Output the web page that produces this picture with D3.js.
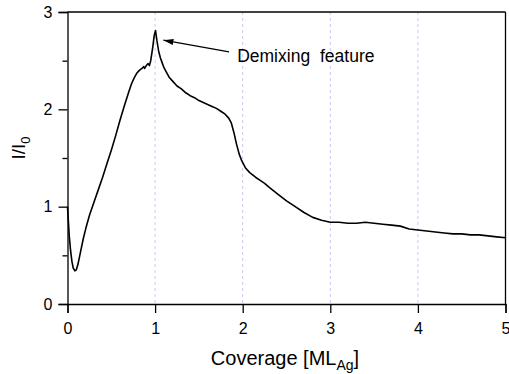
<!DOCTYPE html>
<html>
<head>
<meta charset="utf-8">
<script src="https://cdn.jsdelivr.net/npm/d3@7"></script>
<style>
  body { margin: 0; background: #fff; }
  svg text { font-family: "Liberation Sans", Arial, sans-serif; fill: #000; }
</style>
</head>
<body>
<div id="chart"></div>
<script>
// coverage [ML_Ag]
const coverage = [0.000, 0.010, 0.020, 0.035, 0.050, 0.065, 0.085, 0.100, 0.120, 0.150,
    0.180, 0.210, 0.250, 0.300, 0.350, 0.400, 0.450, 0.500, 0.550, 0.600,
    0.650, 0.700, 0.730, 0.760, 0.790, 0.820, 0.850, 0.870, 0.880, 0.900,
    0.920, 0.935, 0.950, 0.960, 0.975, 0.990, 1.005, 1.020, 1.040, 1.060,
    1.080, 1.100, 1.130, 1.160, 1.200, 1.250, 1.300, 1.350, 1.400, 1.450,
    1.500, 1.550, 1.600, 1.650, 1.700, 1.750, 1.800, 1.840, 1.870, 1.900,
    1.930, 1.960, 1.990, 2.030, 2.080, 2.150, 2.200, 2.250, 2.300, 2.400,
    2.500, 2.600, 2.700, 2.800, 2.900, 3.000, 3.100, 3.200, 3.300, 3.400,
    3.500, 3.600, 3.700, 3.800, 3.900, 4.000, 4.100, 4.200, 4.300, 4.400,
    4.500, 4.600, 4.700, 4.800, 4.900, 5.000];
// I/I0
const intensity = [1.00, 0.85, 0.70, 0.55, 0.44, 0.37, 0.34, 0.35, 0.41, 0.54,
    0.67, 0.78, 0.91, 1.04, 1.17, 1.30, 1.44, 1.58, 1.73, 1.89,
    2.04, 2.18, 2.26, 2.32, 2.37, 2.40, 2.42, 2.44, 2.42, 2.45,
    2.47, 2.45, 2.50, 2.56, 2.65, 2.76, 2.81, 2.71, 2.60, 2.53,
    2.48, 2.43, 2.38, 2.33, 2.29, 2.24, 2.21, 2.17, 2.14, 2.12,
    2.09, 2.07, 2.05, 2.03, 2.01, 1.98, 1.95, 1.91, 1.86, 1.76,
    1.64, 1.54, 1.47, 1.40, 1.35, 1.30, 1.27, 1.24, 1.20, 1.13,
    1.06, 1.00, 0.94, 0.89, 0.86, 0.84, 0.84, 0.83, 0.83, 0.84,
    0.83, 0.82, 0.81, 0.80, 0.77, 0.76, 0.75, 0.74, 0.73, 0.72,
    0.72, 0.71, 0.71, 0.70, 0.69, 0.68];

const xTicks = [0, 1, 2, 3, 4, 5];
const yTicks = [0, 1, 2, 3];
const yMinorTicks = [0.5, 1.5, 2.5];
const gridX = [1, 2, 3, 4];

// annotation: arrow from [x, y] to [x, y]
const arrowFrom = [1.844, 2.59];
const arrowTo = [1.095, 2.71];
const noteText = "Demixing feature";
const notePos = [1.937, 2.53];

const W = 509, H = 374;
const margin = {top: 12, right: 3.5, bottom: 70, left: 67.5};
const width = W - margin.left - margin.right,
    height = H - margin.top - margin.bottom;

const svg = d3.select("#chart").append("svg")
    .attr("width", W)
    .attr("height", H);

const g = svg.append("g")
    .attr("transform", "translate(" + margin.left + "," + margin.top + ")");

const x = d3.scaleLinear().domain([0, 5]).range([0, width]);
const y = d3.scaleLinear().domain([0, 3]).range([height, 0]);

// dashed vertical gridlines
g.selectAll(".gridx")
    .data(gridX)
    .join("line")
    .attr("x1", d => x(d)).attr("x2", d => x(d))
    .attr("y1", 0).attr("y2", height)
    .attr("stroke", "#c9c9f2")
    .attr("stroke-width", 1)
    .attr("stroke-dasharray", "3 3");

// frame top/right
g.append("line")
    .attr("x1", 0).attr("x2", width).attr("y1", 0).attr("y2", 0)
    .attr("stroke", "#000").attr("stroke-width", 1.6);
g.append("line")
    .attr("x1", width).attr("x2", width).attr("y1", 0).attr("y2", height)
    .attr("stroke", "#000").attr("stroke-width", 1.3);

// x axis
const xAxis = g.append("g")
    .attr("transform", `translate(0, ${height})`)
    .call(d3.axisBottom(x).tickValues(xTicks).tickSize(9).tickPadding(10).tickFormat(d3.format("d")));
xAxis.selectAll("text").attr("font-size", 16);

// y axis
const yAxis = g.append("g")
    .call(d3.axisLeft(y).tickValues(yTicks).tickSize(9).tickPadding(6).tickFormat(d3.format("d")));
yAxis.selectAll("text").attr("font-size", 16);

g.append("g")
    .call(d3.axisLeft(y).tickValues(yMinorTicks).tickSize(5).tickFormat(""))
    .select(".domain").remove();

g.selectAll(".domain").attr("stroke-width", 1.3);
g.selectAll(".tick line").attr("stroke-width", 1.3);

// the curve
const pts = coverage.map((c, i) => [c, intensity[i]]);
const line = d3.line()
    .x(d => x(d[0]))
    .y(d => y(d[1]));

g.append("path")
    .datum(pts)
    .attr("fill", "none")
    .attr("stroke", "#000")
    .attr("stroke-width", 1.6)
    .attr("stroke-linejoin", "round")
    .attr("d", line);

// arrow annotation
svg.append("defs").append("marker")
    .attr("id", "arrowhead")
    .attr("viewBox", "0 0 10 6")
    .attr("refX", 10).attr("refY", 3)
    .attr("markerWidth", 10).attr("markerHeight", 6)
    .attr("markerUnits", "userSpaceOnUse")
    .attr("orient", "auto")
    .append("path")
    .attr("d", "M0,0 L10,3 L0,6 Z")
    .attr("fill", "#000");

g.append("line")
    .attr("x1", x(arrowFrom[0])).attr("y1", y(arrowFrom[1]))
    .attr("x2", x(arrowTo[0])).attr("y2", y(arrowTo[1]))
    .attr("stroke", "#000")
    .attr("stroke-width", 1.3)
    .attr("marker-end", "url(#arrowhead)");

g.append("text")
    .attr("x", x(notePos[0]))
    .attr("y", y(notePos[1]))
    .attr("dominant-baseline", "middle")
    .attr("font-size", 17.5)
    .attr("word-spacing", 5)
    .text(noteText);

// axis labels
const xl = svg.append("text")
    .attr("text-anchor", "middle")
    .attr("x", 285)
    .attr("y", 365)
    .attr("font-size", 20);
xl.append("tspan").text("Coverage [ML");
xl.append("tspan").attr("font-size", 14).attr("dy", 5).text("Ag");
xl.append("tspan").attr("dy", -5).text("]");

const yl = svg.append("text")
    .attr("text-anchor", "middle")
    .attr("transform", "translate(25, 148) rotate(-90)")
    .attr("font-size", 19);
yl.append("tspan").text("I/I");
yl.append("tspan").attr("font-size", 13).attr("dy", 5).text("0");
</script>
</body>
</html>
